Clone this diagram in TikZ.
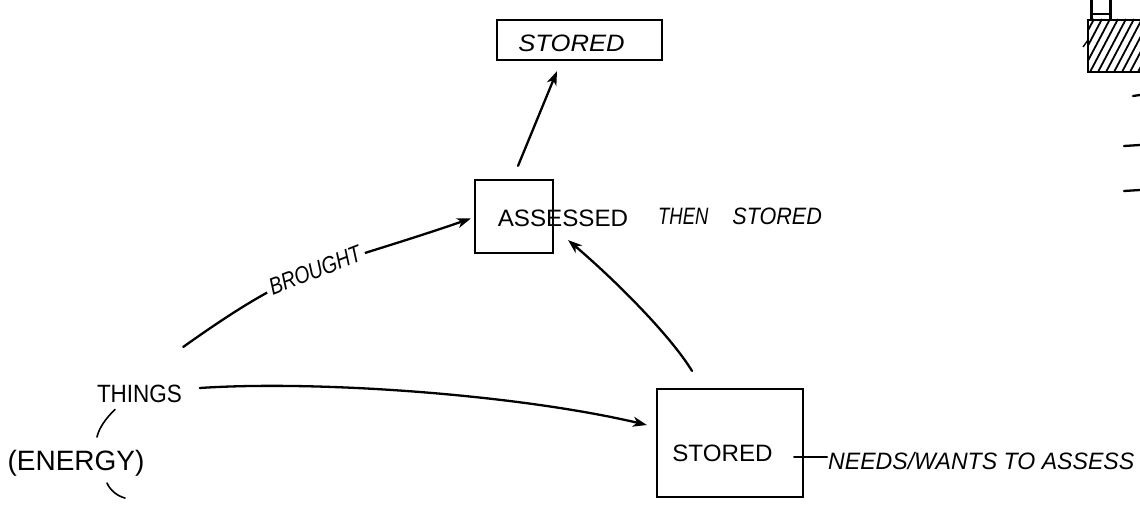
\documentclass[tikz,border=0pt]{standalone}
\usepackage{fontspec}
\usepackage{graphicx}
\setmainfont{Liberation Sans}
\usetikzlibrary{arrows.meta}
\begin{document}
\begin{tikzpicture}[x=1pt,y=-1pt,
  ink/.style={line width=2.3pt, line cap=round, line join=round},
  hand/.style={ink, -{Stealth[length=14pt,width=10pt,inset=4pt]}},
  boxnode/.style={draw, line width=2.2pt, inner sep=0pt},
  txt/.style={inner sep=0pt},
  big/.style={font=\fontsize{23.7}{24}\selectfont},
  bigit/.style={font=\fontsize{23.7}{24}\selectfont\itshape}]
\useasboundingbox (0,0) rectangle (1140,508);

% boxes
\node[boxnode, minimum width=165pt, minimum height=40pt] (topbox) at (579.5,40) {};
\node[boxnode, minimum width=78pt, minimum height=73pt] (assessbox) at (514,216.5) {};
\node[boxnode, minimum width=146pt, minimum height=108pt] (storedbox) at (730,443) {};

% texts
\node[txt, bigit] (topstored) at (571.5,43.5) {\scalebox{1.08}[1]{STORED}};
\node[txt, big] (assessed) at (563,218.5) {\scalebox{1.02}[1]{ASSESSED}};
\node[txt, bigit] (thenstored) at (740,216) {\scalebox{0.78}[1]{THEN}\hspace{24pt}\scalebox{0.91}[1]{STORED}};
\node[txt, font=\fontsize{25}{26}\selectfont] (things) at (139.5,394) {\scalebox{0.9}[1]{THINGS}};
\node[txt, anchor=base, font=\fontsize{28}{29}\selectfont] (energy) at (76,470) {(ENERGY)};
\node[txt, big] (storedtxt) at (722.5,453.5) {\scalebox{1.02}[1]{STORED}};
\node[txt, bigit, anchor=west] (needs) at (828,461) {\scalebox{0.975}[1]{NEEDS/WANTS TO ASSESS}};

% connectors
\draw[hand] ([shift={(1,-38)}]things.north east) .. controls (304,261) and (318,271) .. ([shift={(-3,2)}]assessbox.west)
  node[pos=0.5, sloped, fill=white, inner sep=4pt, bigit] (brought) {\scalebox{0.82}[1]{BROUGHT}};
\draw[hand] ([shift={(17.5,-6)}]things.east) .. controls (320,380) and (520,395) .. ([shift={(-9,-18)}]storedbox.west);
\draw[hand] ([shift={(-38,-17)}]storedbox.north) .. controls (670,335) and (615,280) .. ([shift={(14,-14)}]assessbox.south east);
\draw[hand] ([shift={(4,-13)}]assessbox.north) -- ([shift={(-22.5,10)}]topbox.south);
\draw[ink] ([shift={(-10,14)}]storedbox.east) -- ([shift={(-1,-4)}]needs.west);

% small strokes around ENERGY
\draw[line width=1.6pt, line cap=round] ([shift={(39,-40)}]energy.north) .. controls (106,418) and (99,428) .. (97,437);
\draw[line width=1.6pt, line cap=round] ([shift={(31,7)}]energy.south) .. controls (110,490) and (117,496) .. (125,498);

% top-right hatched fragment
\begin{scope}
  \clip (1088,19) rectangle (1141,72);
  \foreach \i in {0,...,12} \draw[line width=1.8pt] (1058+\i*8,72) -- ++(28,-53);
\end{scope}
\draw[line width=2.6pt] (1141,20) -- (1088,20) -- (1088,72) -- (1141,72);
\draw[line width=1.4pt] (1088,40) -- (1083,47);
\draw[line width=3pt] (1091,0) -- (1091,20);
\draw[line width=3pt] (1110,0) -- (1110,20);
\draw[line width=2pt] (1091,14) -- (1110,14);
\draw[ink] (1133,96) -- (1140,95);
\draw[ink] (1124,146) -- (1140,145);
\draw[ink] (1124,191) -- (1140,190);
\end{tikzpicture}
\end{document}
